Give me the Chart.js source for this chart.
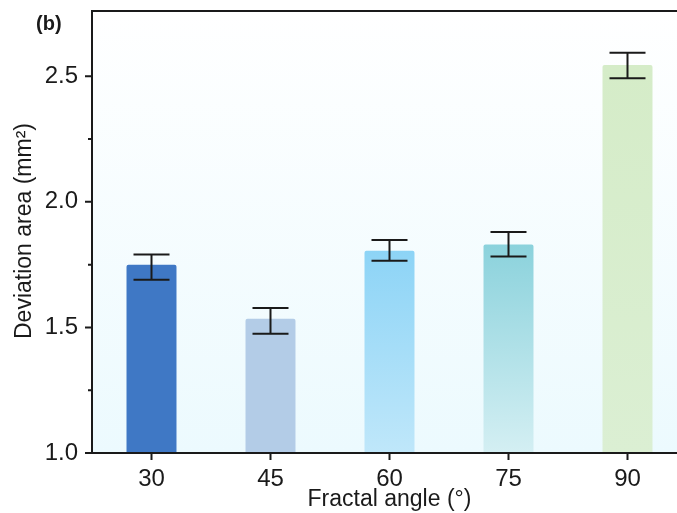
<!DOCTYPE html>
<html>
<head>
<meta charset="utf-8">
<script src="https://cdn.jsdelivr.net/npm/chart.js@4.4.0/dist/chart.umd.min.js"></script>
<style>
    html, body { margin: 0; padding: 0; background: #ffffff; overflow: hidden; }
    #wrap { width: 677px; height: 513px; overflow: hidden; }
</style>
</head>
<body>
<div id="wrap"><canvas id="barChart" width="700" height="513"></canvas></div>
<script>
// Fractal angle categories and measured deviation area
const angles = ['30', '45', '60', '75', '90'];
const deviationArea = [1.75, 1.535, 1.805, 1.83, 2.545];
const errorUpper = [1.79, 1.577, 1.848, 1.88, 2.594];
const errorLower = [1.69, 1.475, 1.766, 1.782, 2.492];
const yMajorTicks = [1.0, 1.5, 2.0, 2.5];
const yMinorTicks = [1.25, 1.75, 2.25];

// top/bottom colour of each bar
const barTopColors = ['#3f78c5', '#b3cce7', '#8dd4f6', '#8bd2dc', '#d5ecc8'];
const barBottomColors = ['#3f78c5', '#b3cce7', '#bfe7fa', '#d4eff3', '#dbefd3'];

const FONT = "'Liberation Sans', Arial, sans-serif";

function barFill(context) {
    const chart = context.chart;
    const i = context.dataIndex;
    const area = chart.chartArea;
    if (!area || !chart.scales.y) return barTopColors[i];
    const yTop = chart.scales.y.getPixelForValue(deviationArea[i]);
    const g = chart.ctx.createLinearGradient(0, yTop, 0, area.bottom);
    g.addColorStop(0, barTopColors[i]);
    g.addColorStop(1, barBottomColors[i]);
    return g;
}

const decorPlugin = {
    id: 'decor',
    beforeDraw(chart) {
        const { ctx, chartArea: a } = chart;
        // plot background, white at top fading to pale cyan
        const g = ctx.createLinearGradient(0, a.top, 0, a.bottom);
        g.addColorStop(0, '#ffffff');
        g.addColorStop(1, '#ecfafe');
        ctx.save();
        ctx.fillStyle = g;
        ctx.fillRect(a.left, a.top, a.right - a.left, a.bottom - a.top);
        ctx.restore();
    },
    afterDraw(chart) {
        const { ctx, chartArea: a, scales } = chart;
        ctx.save();
        ctx.strokeStyle = '#1a1a1a';
        ctx.lineWidth = 2;

        // error bars
        const meta = chart.getDatasetMeta(0);
        meta.data.forEach((bar, i) => {
            const yHi = scales.y.getPixelForValue(errorUpper[i]);
            const yLo = scales.y.getPixelForValue(errorLower[i]);
            ctx.beginPath();
            ctx.moveTo(bar.x, yHi);
            ctx.lineTo(bar.x, yLo);
            ctx.moveTo(bar.x - 18, yHi);
            ctx.lineTo(bar.x + 18, yHi);
            ctx.moveTo(bar.x - 18, yLo);
            ctx.lineTo(bar.x + 18, yLo);
            ctx.stroke();
        });

        // frame: left, bottom, top, right
        ctx.beginPath();
        ctx.moveTo(a.left, a.top);
        ctx.lineTo(a.right, a.top);
        ctx.lineTo(a.right, a.bottom);
        ctx.lineTo(a.left, a.bottom);
        ctx.closePath();
        ctx.stroke();

        // y ticks (major + minor)
        ctx.beginPath();
        yMajorTicks.forEach(v => {
            const y = scales.y.getPixelForValue(v);
            ctx.moveTo(a.left, y);
            ctx.lineTo(a.left - 7, y);
        });
        yMinorTicks.forEach(v => {
            const y = scales.y.getPixelForValue(v);
            ctx.moveTo(a.left, y);
            ctx.lineTo(a.left - 4, y);
        });
        // x ticks
        angles.forEach((c, i) => {
            const x = scales.x.getPixelForValue(i);
            ctx.moveTo(x, a.bottom);
            ctx.lineTo(x, a.bottom + 7);
        });
        ctx.stroke();

        // panel label and axis titles
        ctx.fillStyle = '#1a1a1a';
        ctx.font = 'bold 20px ' + FONT;
        ctx.textAlign = 'left';
        ctx.textBaseline = 'middle';
        ctx.fillText('(b)', 36, 24);

        ctx.font = '23px ' + FONT;
        ctx.textAlign = 'center';
        ctx.fillText('Fractal angle (\u00b0)', (a.left + a.right) / 2, 500);

        ctx.translate(25, (a.top + a.bottom) / 2 - 1);
        ctx.rotate(-Math.PI / 2);
        ctx.fillText('Deviation area (mm\u00b2)', 0, 0);
        ctx.restore();
    }
};

new Chart(document.getElementById('barChart').getContext('2d'), {
    type: 'bar',
    data: {
        labels: angles,
        datasets: [{
            data: deviationArea,
            backgroundColor: barFill,
            borderWidth: 0,
            borderRadius: { topLeft: 2, topRight: 2 },
            borderSkipped: 'bottom',
            barPercentage: 0.42,
            categoryPercentage: 1
        }]
    },
    options: {
        responsive: false,
        animation: false,
        layout: { padding: { left: 0, right: 13, top: 11, bottom: 0 } },
        plugins: {
            legend: { display: false },
            tooltip: { enabled: false }
        },
        scales: {
            x: {
                grid: { display: false, drawTicks: false },
                border: { display: false },
                ticks: {
                    color: '#1a1a1a',
                    font: { family: FONT, size: 24 },
                    padding: 12,
                    maxRotation: 0
                },
                afterFit(scale) {
                    scale.height = 60;
                    scale.paddingLeft = 0;
                    scale.paddingRight = 0;
                }
            },
            y: {
                min: 1.0,
                max: 2.76,
                grid: { display: false, drawTicks: false },
                border: { display: false },
                afterBuildTicks(scale) {
                    scale.ticks = yMajorTicks.map(v => ({ value: v }));
                },
                ticks: {
                    color: '#1a1a1a',
                    font: { family: FONT, size: 24 },
                    padding: 14,
                    callback: v => v.toFixed(1)
                },
                afterFit(scale) {
                    scale.width = 92;
                    scale.paddingTop = 0;
                    scale.paddingBottom = 0;
                }
            }
        }
    },
    plugins: [decorPlugin]
});
</script>
</body>
</html>
